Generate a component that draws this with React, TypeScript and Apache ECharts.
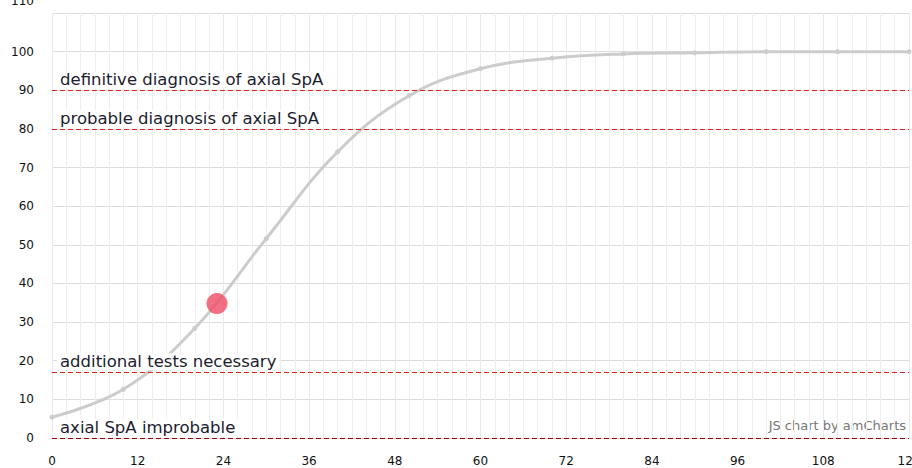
import React, { useEffect, useRef } from "react";
import * as echarts from "echarts";

const curveX = [0, 10, 20, 30, 40, 50, 60, 70, 80, 90, 100, 110, 120];
const curveY = [5.4, 12.6, 28.4, 51.6, 74.1, 88.6, 95.6, 98.3, 99.4, 99.7, 100, 100, 100];
const markerPoint = [23.1, 34.8];
const guideValues = [90, 80, 17, 0];
const guideLabels = [
  "definitive diagnosis of axial SpA",
  "probable diagnosis of axial SpA",
  "additional tests necessary",
  "axial SpA improbable",
];
const guideColors = ["#dd2222", "#dd2222", "#dd2222", "#990000"];

export default function App() {
  const ref = useRef<HTMLDivElement>(null);
  useEffect(() => {
    if (!ref.current) return;
    const chart = echarts.init(ref.current, null, { renderer: "svg" });
    const font = "'DejaVu Sans', Verdana, sans-serif";
    chart.setOption({
      animation: false,
      backgroundColor: "#fff",
      grid: { left: 52, right: 3, top: 13, bottom: 30, containLabel: false, outerBoundsMode: "none" },
      xAxis: {
        type: "value",
        min: 0,
        max: 120,
        interval: 12,
        axisLine: { show: false },
        axisTick: { show: false },
        minorTick: { show: true, splitNumber: 6, length: 0 },
        axisLabel: { color: "#111", fontSize: 12, fontFamily: font, margin: 17, hideOverlap: false },
        splitLine: { show: true, lineStyle: { color: "#e9e9e9", width: 1 } },
        minorSplitLine: { show: true, lineStyle: { color: "#eeeeee", width: 1 } },
      },
      yAxis: {
        type: "value",
        min: 0,
        max: 110,
        interval: 10,
        axisLine: { show: false },
        axisTick: { show: false },
        axisLabel: {
          color: "#111",
          fontSize: 12,
          fontFamily: font,
          margin: 18,
          formatter: (v: number) => (v === 110 ? "{top|" + v + "}" : String(v)),
          rich: { top: { fontSize: 12, fontFamily: font, color: "#111", padding: [0, 0, 25, 0] } },
        },
        splitLine: { show: true, lineStyle: { color: "#dcdcdc", width: 1 } },
      },
      series: [
        {
          type: "line",
          data: [],
          z: 1,
          markLine: {
            silent: true,
            symbol: ["none", "none"],
            lineStyle: { color: "#dd2222", type: [5, 3], width: 1 },
            data: guideValues.map((v, i) => ({
              yAxis: v,
              name: guideLabels[i],
              lineStyle: { color: guideColors[i], type: [5, 3], width: 1, opacity: 1 },
            })),
            label: {
              show: true,
              position: "insideStartTop",
              formatter: "{b}",
              color: "#1c1c2e",
              fontSize: 16.5,
              fontFamily: font,
              backgroundColor: "#fff",
              padding: [0, 3, 0, 3],
              distance: [5, 2],
            },
            emphasis: { disabled: true },
          },
        },
        {
          type: "line",
          z: 3,
          smooth: 0.4,
          data: curveX.map((x, i) => [x, curveY[i]]),
          symbol: "circle",
          symbolSize: 5,
          itemStyle: { color: "#cccccc" },
          lineStyle: { color: "#cccccc", width: 3 },
        },
        {
          type: "scatter",
          z: 4,
          data: [markerPoint],
          symbolSize: 21,
          itemStyle: { color: "#ee4c62" },
        },
      ],
      graphic: [
        {
          type: "text",
          right: 6,
          top: 419,
          style: { text: "JS chart by amCharts", fill: "#777", fontSize: 13, fontFamily: font },
        },
      ],
    });
    return () => chart.dispose();
  }, []);
  return <div ref={ref} style={{ position: "fixed", left: 0, top: 0, width: 912, height: 468 }} />;
}
